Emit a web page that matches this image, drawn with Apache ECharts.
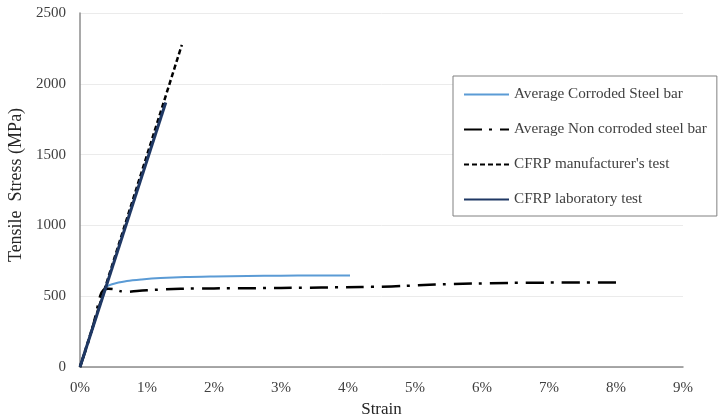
<!DOCTYPE html>
<html>
<head>
<meta charset="utf-8">
<script src="https://cdn.jsdelivr.net/npm/echarts@6/dist/echarts.min.js"></script>
<style>
html,body{margin:0;padding:0;background:#fff;}
#chart{width:721px;height:419px;}
</style>
</head>
<body>
<div id="chart"></div>
<script>
// Strain in %, stress in MPa
const seriesNames = ["Average Corroded Steel bar", "Average Non corroded steel bar", "CFRP manufacturer's test", "CFRP laboratory test"];
const corrodedSteel = [[0,0],[0.2,290],[0.39,561],[0.45,580],[0.52,590],[0.7,607],[0.92,618],[1.2,628],[1.57,636],[2,640],[2.5,643],[3,645],[3.5,646],[4.03,646]];
const nonCorrodedSteel = [[0,0],[0.1,140],[0.2,300],[0.3,500],[0.35,545],[0.42,553],[0.5,550],[0.6,536],[0.7,530],[0.85,537],[1,542],[1.5,553],[2,555],[3,558],[4.2,565],[4.5,567],[4.8,572],[5.3,582],[5.85,589],[6.4,594],[7,596],[8.02,597]];
const cfrpManufacturer = [[0,0],[1.52,2275]];
const cfrpLaboratory = [[0,0],[1.28,1868]];
const xTicks = [0,1,2,3,4,5,6,7,8,9];
const yTicks = [0,500,1000,1500,2000,2500];

const chart = echarts.init(document.getElementById('chart'), null, {renderer:'canvas'});
const serif = '"Liberation Serif", "Times New Roman", serif';
chart.setOption({
  animation:false,
  backgroundColor:'#ffffff',
  grid:{left:80, right:38, top:13, bottom:52, containLabel:false, outerBoundsMode:'none'},
  legend:{
    orient:'vertical', left:453, top:76,
    data:seriesNames,
    itemWidth:45, itemHeight:10, itemGap:20,
    padding:[11,10,9,10],
    borderColor:'#808080', borderWidth:1,
    backgroundColor:'#ffffff',
    itemStyle:{opacity:0},
    textStyle:{fontFamily:serif, fontSize:15.2, color:'#404040'}
  },
  xAxis:{
    type:'value', min:xTicks[0], max:xTicks[xTicks.length-1], interval:1,
    name:'Strain', nameLocation:'middle', nameGap:33,
    nameTextStyle:{fontFamily:serif, fontSize:17, color:'#262626'},
    axisLine:{show:true, lineStyle:{color:'#8c8c8c', width:1.5}},
    axisTick:{show:false},
    splitLine:{show:false},
    axisLabel:{fontFamily:serif, fontSize:15, color:'#404040', margin:14, formatter:'{value}%'}
  },
  yAxis:{
    type:'value', min:yTicks[0], max:yTicks[yTicks.length-1], interval:500,
    name:'Tensile  Stress (MPa)', nameLocation:'middle', nameGap:52,
    nameTextStyle:{fontFamily:serif, fontSize:18, color:'#262626', padding:[0,0,0,10]},
    axisLine:{show:true, lineStyle:{color:'#8c8c8c', width:1.5}},
    axisTick:{show:false},
    splitLine:{show:true, lineStyle:{color:'#ebebeb', width:1}},
    axisLabel:{fontFamily:serif, fontSize:15, color:'#404040', margin:14, formatter:function(v){return String(v);}}
  },
  series:[
    {name:seriesNames[0], type:'line', data:corrodedSteel, symbol:'none', smooth:0.3,
     lineStyle:{color:'#5b9bd5', width:2}, itemStyle:{color:'#5b9bd5'}},
    {name:seriesNames[1], type:'line', data:nonCorrodedSteel, symbol:'none', smooth:0.2,
     lineStyle:{color:'#000000', width:2.5, type:[18,7,3,8]}, itemStyle:{color:'#000000'}},
    {name:seriesNames[2], type:'line', data:cfrpManufacturer, symbol:'none',
     lineStyle:{color:'#000000', width:2.5, type:[5,3]}, itemStyle:{color:'#000000'}},
    {name:seriesNames[3], type:'line', data:cfrpLaboratory, symbol:'none',
     lineStyle:{color:'#1f3864', width:3}, itemStyle:{color:'#1f3864'}}
  ]
});
</script>
</body>
</html>
